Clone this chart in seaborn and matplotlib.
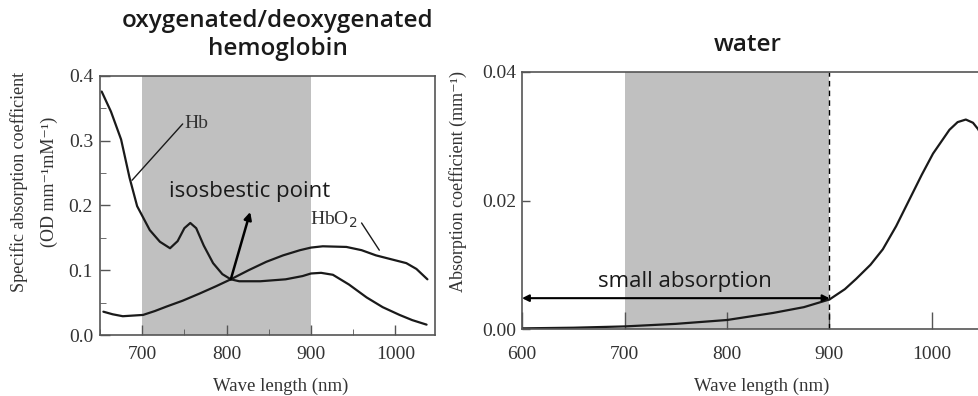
import numpy as np
import pandas as pd
import matplotlib
matplotlib.use('Agg')
import matplotlib.pyplot as plt
from matplotlib.ticker import MultipleLocator
import seaborn as sns

# values
hb_wl = [652, 663, 675, 685, 694, 709, 721, 733, 742, 750, 757, 764, 773, 784, 795, 805, 815, 840, 870, 890, 900, 912, 926, 945, 966, 985, 1005, 1020, 1037]
hb_val = [0.376, 0.345, 0.302, 0.243, 0.199, 0.162, 0.144, 0.134, 0.145, 0.165, 0.173, 0.165, 0.138, 0.111, 0.094, 0.086, 0.083, 0.083, 0.086, 0.091, 0.095, 0.096, 0.093, 0.078, 0.058, 0.043, 0.031, 0.023, 0.016]
hbo2_wl = [654, 665, 677, 701, 715, 729, 748, 768, 787, 805, 826, 847, 867, 887, 900, 914, 942, 960, 977, 995, 1013, 1025, 1038]
hbo2_val = [0.036, 0.032, 0.029, 0.031, 0.037, 0.044, 0.053, 0.064, 0.075, 0.086, 0.100, 0.113, 0.123, 0.131, 0.135, 0.137, 0.136, 0.131, 0.123, 0.117, 0.111, 0.102, 0.086]
water_wl = [600, 650, 700, 750, 800, 845, 875, 900, 915, 926, 940, 952, 965, 975, 990, 1001, 1017, 1025, 1033, 1040, 1045, 1052]
water_val = [0.0001, 0.0002, 0.0004, 0.0008, 0.0014, 0.0025, 0.0034, 0.0046, 0.0062, 0.0078, 0.0100, 0.0124, 0.0160, 0.0192, 0.0240, 0.0273, 0.0310, 0.0322, 0.0326, 0.0321, 0.0311, 0.0290]
band = (700, 900)
isosbestic = (805, 0.086)

sns.set_style('ticks')
SERIF = ['Liberation Serif', 'DejaVu Serif']
SANS = ['Open Sans', 'DejaVu Sans']
plt.rcParams['font.family'] = SERIF
plt.rcParams['xtick.direction'] = 'in'
plt.rcParams['ytick.direction'] = 'in'
GRAY = '#c0c0c0'; INK = '#1a1a1a'; SP = '#555555'; TXT = '#333333'
W, H = 979, 396

fig = plt.figure(figsize=(9.79, 3.96), dpi=100)
fig.patch.set_facecolor('white')

def style(ax):
    for sp in ax.spines.values():
        sp.set_visible(True); sp.set_color(SP); sp.set_linewidth(1.2)
    ax.tick_params(colors=SP, labelcolor=TXT, labelsize=14, width=1.0)
    ax.set_facecolor('white')
    ax.set_xlabel(''); ax.set_ylabel('')

def ftext(px, py, s, **kw):
    fig.text(px/W, 1-py/H, s, ha='center', va='center', **kw)

# left: hemoglobin
ax1 = fig.add_axes([100/W, 1-335/H, 335/W, 259/H])
ax1.axvspan(*band, color=GRAY, lw=0, zorder=0)
d1 = pd.DataFrame({'wl': hb_wl, 'v': hb_val})
d2 = pd.DataFrame({'wl': hbo2_wl, 'v': hbo2_val})
sns.lineplot(data=d1, x='wl', y='v', ax=ax1, color=INK, lw=1.6, estimator=None)
sns.lineplot(data=d2, x='wl', y='v', ax=ax1, color=INK, lw=1.6, estimator=None)
ax1.set_xlim(650, 1047); ax1.set_ylim(0, 0.4)
ax1.xaxis.set_major_locator(MultipleLocator(100)); ax1.xaxis.set_minor_locator(MultipleLocator(50))
ax1.yaxis.set_major_locator(MultipleLocator(0.1)); ax1.yaxis.set_minor_locator(MultipleLocator(0.05))
ax1.yaxis.set_major_formatter(lambda v, p: f'{v:.1f}')
style(ax1)
ax1.tick_params(which='major', length=7)
ax1.tick_params(which='minor', length=4, color=SP)
ax1.tick_params(axis='x', which='major', pad=8)
ax1.tick_params(axis='y', which='major', pad=5)
ax1.tick_params(axis='x', which='both', top=False)
ax1.tick_params(axis='y', which='both', right=False)
ax1.plot([688, 748], [0.239, 0.326], color=INK, lw=1.0)
ax1.text(750, 0.326, 'Hb', fontsize=14, color=TXT, va='center', ha='left')
ax1.plot([960, 981], [0.173, 0.131], color=INK, lw=1.0)
ax1.text(955, 0.178, 'HbO$_2$', fontsize=14, color=TXT, va='center', ha='right')
ax1.annotate('', xy=(828, 0.19), xytext=isosbestic,
             arrowprops=dict(arrowstyle='-|>', color='black', lw=1.8, mutation_scale=11, shrinkA=0, shrinkB=0))
ax1.text(827, 0.221, 'isosbestic point', family=SANS, fontsize=16, color=INK, ha='center', va='center')
ftext(34, 182, 'Specific absorption coefficient\n(OD mm⁻¹mM⁻¹)', rotation=90, fontsize=13,
      color=TXT, linespacing=1.95, multialignment='center')
ftext(281, 386, 'Wave length (nm)', fontsize=13.5, color=TXT)

# right: water
ax2 = fig.add_axes([522/W, 1-329/H, 512.5/W, 257/H])
ax2.axvspan(*band, color=GRAY, lw=0, zorder=0)
ax2.axvline(900, color='black', lw=1.0, ls=(0, (4, 3)), zorder=1)
d3 = pd.DataFrame({'wl': water_wl, 'v': water_val})
sns.lineplot(data=d3, x='wl', y='v', ax=ax2, color=INK, lw=1.6, estimator=None)
ax2.set_xlim(600, 1100); ax2.set_ylim(0, 0.04)
ax2.set_xticks([600, 700, 800, 900, 1000]); ax2.set_yticks([0.0, 0.02, 0.04])
ax2.yaxis.set_major_formatter(lambda v, p: f'{v:.2f}')
style(ax2)
ax2.tick_params(axis='x', length=12, pad=12)
ax2.tick_params(axis='y', length=6, pad=4)
ax2.tick_params(axis='x', top=False); ax2.tick_params(axis='y', right=False)
ax2.annotate('', xy=(600, 0.0048), xytext=(900, 0.0048),
             arrowprops=dict(arrowstyle='<|-|>', color='black', lw=1.5, mutation_scale=10, shrinkA=0, shrinkB=0))
ax2.text(759, 0.0074, 'small absorption', family=SANS, fontsize=16, color=INK, ha='center', va='center')
ftext(458, 182, 'Absorption coefficient (mm⁻¹)', rotation=90, fontsize=13, color=TXT)
ftext(762, 386, 'Wave length (nm)', fontsize=13.5, color=TXT)

ftext(278, 35, 'oxygenated/deoxygenated\nhemoglobin', family=SANS, fontsize=17.5, weight='semibold',
      color=INK, linespacing=1.25)
ftext(748, 45, 'water', family=SANS, fontsize=17.5, weight='semibold', color=INK)

fig.savefig('out.png', dpi=100, facecolor='white')
